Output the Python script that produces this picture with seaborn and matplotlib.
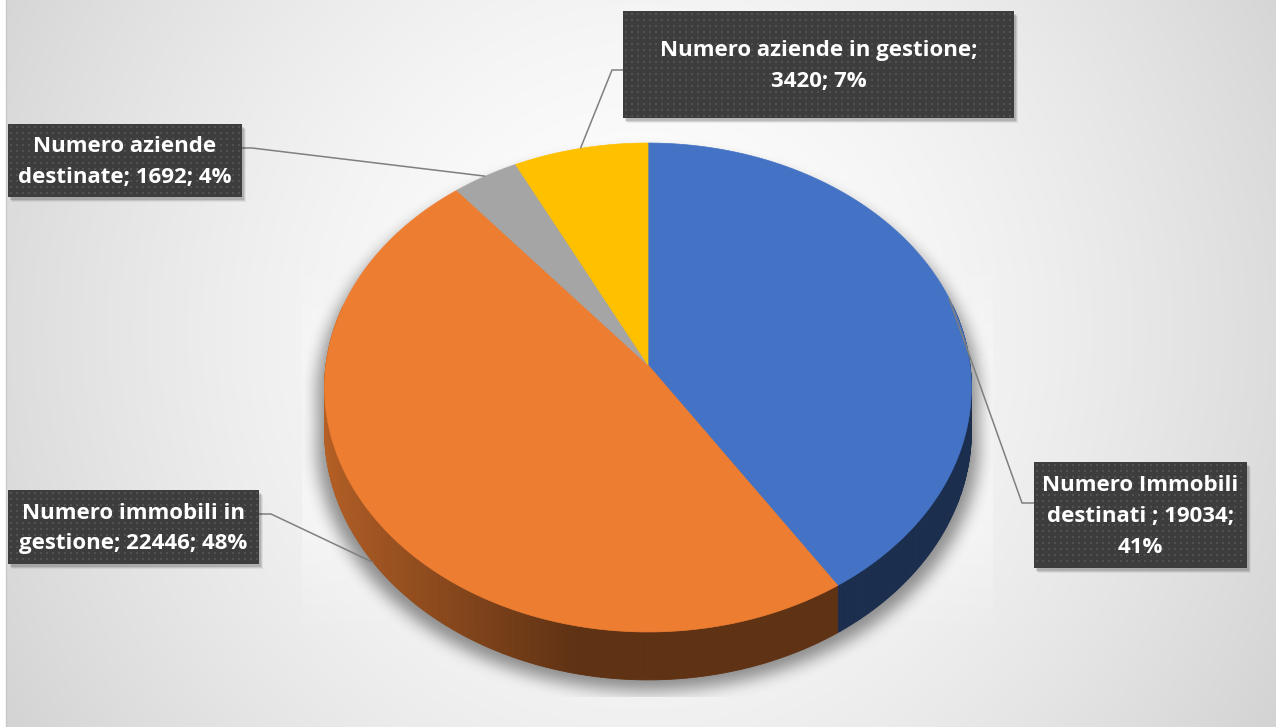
import textwrap

import matplotlib
matplotlib.use("Agg")
import matplotlib.pyplot as plt
from matplotlib.collections import PolyCollection
from matplotlib.patches import Polygon, Rectangle
from matplotlib.path import Path
import numpy as np
import seaborn as sns

# ---- data -------------------------------------------------------------
categories = [
    "Numero Immobili destinati ",
    "Numero immobili in gestione",
    "Numero aziende destinate",
    "Numero aziende in gestione",
]
values = [19034, 22446, 1692, 3420]
slice_colors = ["#4472C4", "#ED7D31", "#A5A5A5", "#FFC000"]

# ---- label layout (box in pixels, wrap width, elbow of the leader) ------
box_rects = [(1034, 462, 1247, 568), (8, 490, 259, 564),
             (8, 124, 242, 197), (623, 11, 1014, 118)]
wrap_widths = [18, 20, 19, 27]
leader_start = [(1034, 503), (259, 514), (242, 148), (623, 70)]
leader_elbow = [(1022, 503), (271, 514), (252, 148), (612, 70)]

W, H = 1276, 727

sns.set_theme(style="white")
plt.rcParams["font.family"] = ["Open Sans", "DejaVu Sans"]

fig = plt.figure(figsize=(W / 100, H / 100), dpi=100)
ax = fig.add_axes([0, 0, 1, 1])
ax.set_xlim(0, W)
ax.set_ylim(H, 0)
ax.axis("off")

# ---- background: soft radial gradient ------------------------------------
gx, gy = np.meshgrid(np.arange(W) + 0.5, np.arange(H) + 0.5)
r = np.sqrt(((gx - 640) / 620) ** 2 + ((gy - 330) / 650) ** 2)
shade = np.clip(1 - 0.13 * r ** 1.6, 0.76, 1.0)
bg = np.dstack([shade, shade, shade])
bg[:, :6, :] = 1.0
ax.imshow(bg, extent=(0, W, H, 0), zorder=0, interpolation="bilinear")
ax.plot([6, 6], [0, H], color="#c8c8c8", lw=1.0, zorder=0.5)

# ---- perspective pie geometry ---------------------------------------------
CX, CY = 648.0, 365.0
RX, RY, K, DEPTH = 322.0, 242.4, 0.092, 43.5


def proj(phi, z=0.0):
    px = np.sin(phi)
    py = np.cos(phi)
    w = 1 + K * py
    return CX + RX * px / w, CY - RY * py / w + DEPTH * z / w


total = float(sum(values))
fractions = np.array(values) / total
bounds = np.concatenate([[0.0], np.cumsum(fractions)]) * 2 * np.pi

# plot area: faint highlight beside the pie, and the pie's soft drop shadow
area = (302, 120, 993, 697)
inside = (gx >= area[0]) & (gx <= area[2]) & (gy >= area[1]) & (gy <= area[3])
ramp = np.clip((gy - 250) / 120, 0, 1) * np.clip((640 - gy) / 110, 0, 1)
glow_img = np.ones((H, W, 4))
glow_img[..., 3] = np.where(inside, 0.35 * ramp, 0.0)
ax.imshow(glow_img, extent=(0, W, H, 0), zorder=1, interpolation="bilinear")

ring = np.linspace(0, 2 * np.pi, 400)
pts = np.column_stack([gx.ravel(), gy.ravel()])
mask = np.zeros(gx.size, dtype=bool)
for z in (0.0, 1.0):
    u, v = proj(ring, z)
    u = CX + (u - CX) * 1.025
    v = v + 11
    mask |= Path(np.column_stack([u, v])).contains_points(pts)
mask = mask.reshape(gx.shape).astype(float)


def box_blur(a, rad, axis):
    pad = [(0, 0), (0, 0)]
    pad[axis] = (rad + 1, rad)
    c = np.cumsum(np.pad(a, pad, mode="edge"), axis=axis)
    n = a.shape[axis]
    hi = np.take(c, np.arange(2 * rad + 1, 2 * rad + 1 + n), axis=axis)
    lo = np.take(c, np.arange(0, n), axis=axis)
    return (hi - lo) / (2 * rad + 1)


for _ in range(3):
    mask = box_blur(mask, 7, 0)
    mask = box_blur(mask, 7, 1)
clip = (gx >= area[0]) & (gx <= area[2]) & (gy <= area[3])
shadow = np.zeros((H, W, 4))
shadow[..., 3] = np.where(clip, mask * 0.42, 0.0)
ax.imshow(shadow, extent=(0, W, H, 0), zorder=2, interpolation="bilinear")


def wall_factor(phi):
    s = np.sin(phi)
    return 0.40 + 0.37 * np.clip((-s - 0.2) / 0.8, 0, 1)


# side walls, painted back to front
quads, qcols, qdepth = [], [], []
for i, col in enumerate(slice_colors):
    base = np.array(matplotlib.colors.to_rgb(col))
    a0, a1 = bounds[i], bounds[i + 1]
    n = max(int((a1 - a0) / (2 * np.pi) * 720), 2)
    ph = np.linspace(a0, a1, n + 1)
    for p0, p1 in zip(ph[:-1], ph[1:]):
        pm = 0.5 * (p0 + p1)
        if np.cos(pm) > 0.25:
            continue
        u0, v0 = proj(p0)
        u1, v1 = proj(p1)
        u2, v2 = proj(p1, 1)
        u3, v3 = proj(p0, 1)
        quads.append([(u0, v0), (u1, v1), (u2, v2), (u3, v3)])
        qcols.append(tuple(base * wall_factor(pm)))
        qdepth.append(np.cos(pm))
order = np.argsort(qdepth)[::-1]
ax.add_collection(PolyCollection([quads[j] for j in order],
                                 facecolors=[qcols[j] for j in order],
                                 edgecolors=[qcols[j] for j in order],
                                 linewidths=0.6, zorder=3))

# top faces
for i, col in enumerate(slice_colors):
    ph = np.linspace(bounds[i], bounds[i + 1], 200)
    u, v = proj(ph)
    poly = np.vstack([[CX, CY], np.column_stack([u, v])])
    ax.add_patch(Polygon(poly, closed=True, facecolor=col, edgecolor=col,
                         lw=0.5, zorder=4))

# ---- data labels --------------------------------------------------------
for i, cat in enumerate(categories):
    pct = int(round(values[i] / total * 100))
    text = "\n".join(textwrap.wrap(f"{cat}; {values[i]}; {pct}%", wrap_widths[i]))
    mid = 0.5 * (bounds[i] + bounds[i + 1])
    anchor = proj(mid, 1.0 if np.cos(mid) < -0.3 else 0.0)

    xs = [leader_start[i][0], leader_elbow[i][0], anchor[0]]
    ys = [leader_start[i][1], leader_elbow[i][1], anchor[1]]
    ax.plot(xs, ys, color="#7f7f7f", lw=1.1, zorder=5, solid_capstyle="butt")

    x0, y0, x1, y1 = box_rects[i]
    for off, al in ((5, 0.06), (4, 0.09), (3, 0.12)):
        ax.add_patch(Rectangle((x0 + off - 1, y0 + off), x1 - x0, y1 - y0,
                               facecolor="black", alpha=al, lw=0, zorder=6))
    ax.add_patch(Rectangle((x0, y0), x1 - x0, y1 - y0, facecolor="#3d3d3d",
                           lw=0, zorder=7))
    dx, dy = np.meshgrid(np.arange(x0 + 3, x1 - 1, 6.0), np.arange(y0 + 3, y1 - 1, 6.0))
    ax.scatter(dx.ravel(), dy.ravel(), s=1.2, marker="s", color="#515151",
               linewidths=0, zorder=8)
    ax.text((x0 + x1) / 2, (y0 + y1) / 2 + 1.5, text, ha="center", va="center",
            multialignment="center", color="white", fontsize=16,
            fontweight="bold", linespacing=1.62, zorder=9)

fig.savefig("out.png", dpi=100)
